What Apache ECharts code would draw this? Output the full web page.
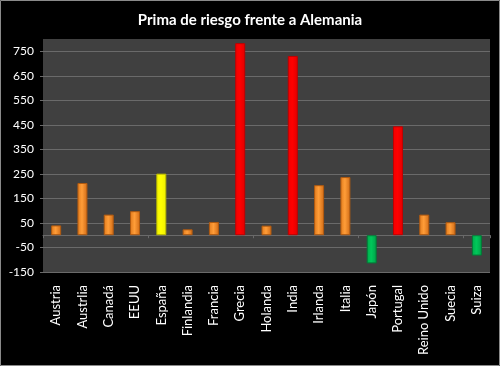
<!DOCTYPE html>
<html><head><meta charset="utf-8">
<script src="https://cdn.jsdelivr.net/npm/echarts@6/dist/echarts.min.js"></script>
<style>html,body{margin:0;padding:0;background:#000}#c{width:500px;height:366px}</style>
</head><body><div id="c"></div>
<script>
const categories = ['Austria','Austrlia','Canadá','EEUU','España','Finlandia','Francia','Grecia','Holanda','India','Irlanda','Italia','Japón','Portugal','Reino Unido','Suecia','Suiza'];
const values = [40, 213, 84, 98, 251, 24, 54, 783, 39, 731, 204, 237, -115, 444, 84, 53, -83];
const yTicks = [-150, -50, 50, 150, 250, 350, 450, 550, 650, 750];

function grad(edge, mid, edge2) {
  return new echarts.graphic.LinearGradient(0, 0, 1, 0, [
    {offset: 0, color: edge}, {offset: 0.45, color: mid}, {offset: 1, color: edge2}
  ]);
}
const styles = {
  orange: {color: grad('#e07a1c', '#ff9d38', '#cf6a16'), borderColor: '#b05a10'},
  red: {color: grad('#f00000', '#ff0000', '#e00000'), borderColor: '#c00000'},
  yellow: {color: grad('#f2f200', '#ffff00', '#eeee00'), borderColor: '#b8b800'},
  green: {color: grad('#00a84a', '#00c85a', '#00a048'), borderColor: '#007a36'}
};
function kind(name, v) {
  if (name === 'España') return 'yellow';
  if (v < 0) return 'green';
  if (v > 400) return 'red';
  return 'orange';
}
const data = values.map((v, i) => {
  const s = styles[kind(categories[i], v)];
  return {value: v, itemStyle: {color: s.color, borderColor: s.borderColor, borderWidth: 1}};
});

const chart = echarts.init(document.getElementById('c'), null, {renderer: 'canvas'});
chart.setOption({
  backgroundColor: '#000',
  animation: false,
  title: {
    text: 'Prima de riesgo frente a Alemania', left: 'center', top: 8,
    textStyle: {color: '#fff', fontFamily: 'Lato', fontWeight: 'bold', fontSize: 15}
  },
  graphic: [{type: 'rect', shape: {x: 0.5, y: 0.5, width: 499, height: 365},
    style: {fill: 'none', stroke: '#8a8a8a', lineWidth: 1}, silent: true, z: 100}],
  grid: {left: 43, right: 10, top: 39, bottom: 94, show: true, backgroundColor: '#404040', borderWidth: 0},
  xAxis: [{
    type: 'category', data: categories, position: 'bottom',
    axisLine: {onZero: false, show: false}, axisTick: {show: false},
    axisLabel: {rotate: 90, color: '#fff', fontFamily: 'Lato', fontSize: 13, margin: 13, interval: 0}
  }, {
    type: 'category', data: categories, position: 'bottom',
    axisLine: {onZero: true, show: true, lineStyle: {color: '#6a6a6a', width: 1}},
    axisTick: {show: true, length: 3, lineStyle: {color: '#6a6a6a'}},
    axisLabel: {show: false}
  }],
  yAxis: {
    type: 'value', min: -150, max: 800, interval: 100,
    axisLine: {show: false},
    axisTick: {show: true, length: 3, lineStyle: {color: '#6a6a6a'}},
    axisLabel: {color: '#fff', fontFamily: 'Lato', fontSize: 12, margin: 9,
      showMaxLabel: false,
      formatter: v => yTicks.includes(v) ? String(v) : ''},
    splitLine: {show: true, showMaxLine: false, lineStyle: {color: '#6a6a6a', width: 1}}
  },
  series: [{
    type: 'bar', data: data, barWidth: 10, xAxisIndex: 0
  }]
});
</script></body></html>
